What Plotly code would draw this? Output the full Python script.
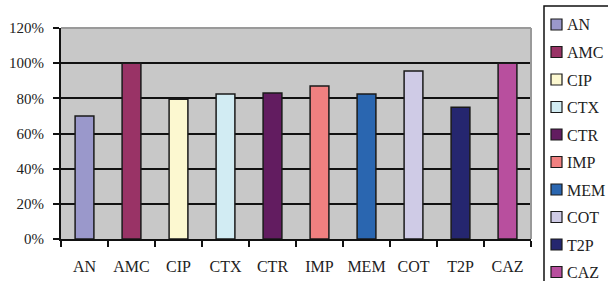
import plotly.graph_objects as go

categories = ["AN", "AMC", "CIP", "CTX", "CTR", "IMP", "MEM", "COT", "T2P", "CAZ"]
values = [70, 100, 79.5, 82.5, 83, 87, 82.5, 95.5, 75, 100]
colors = ["#9a98cb", "#993366", "#fcf8d0", "#d2ecf3", "#621c60",
          "#f08080", "#2a66b0", "#cfcbe6", "#25266f", "#b84f9e"]
y_ticks = [0, 20, 40, 60, 80, 100, 120]
y_tick_labels = ["0%", "20%", "40%", "60%", "80%", "100%", "120%"]

FONT = "Liberation Serif"
W, H = 608, 281
ML, MR, MT, MB = 61, 77, 28, 42
PW, PH = W - ML - MR, H - MT - MB


def px_x(px):
    return (px - ML) / PW


def px_y(py):
    return (H - MB - py) / PH


fig = go.Figure()
for cat, val, col in zip(categories, values, colors):
    fig.add_trace(go.Bar(
        x=[cat], y=[val], name=cat,
        marker=dict(color=col, line=dict(color="#1a1a1a", width=1.5)),
        width=0.4, showlegend=False,
    ))

shapes = [
    dict(type="line", xref="paper", yref="paper", x0=0, x1=1, y0=1, y1=1,
         line=dict(color="#9a9a9a", width=2)),
    dict(type="line", xref="paper", yref="paper", x0=1, x1=1, y0=0, y1=1,
         line=dict(color="#9a9a9a", width=2)),
    # legend box (extends past the right and bottom edges, as in the reference)
    dict(type="rect", xref="paper", yref="paper",
         x0=px_x(544), x1=px_x(640), y0=px_y(6), y1=px_y(300),
         line=dict(color="#111", width=1.5), fillcolor="white"),
]
annotations = []
for i, (cat, col) in enumerate(zip(categories, colors)):
    cy = 24.5 + 27.5 * i
    shapes.append(dict(type="rect", xref="paper", yref="paper",
                       x0=px_x(551), x1=px_x(562), y0=px_y(cy - 5.5), y1=px_y(cy + 5.5),
                       line=dict(color="#1a1a1a", width=1.2), fillcolor=col))
    annotations.append(dict(xref="paper", yref="paper", x=px_x(564.5), y=px_y(cy + 0.5),
                            text=cat, showarrow=False, xanchor="left", yanchor="middle",
                            font=dict(family=FONT, size=16, color="#222")))

fig.update_layout(
    width=W, height=H,
    margin=dict(l=ML, r=MR, t=MT, b=MB, autoexpand=False),
    paper_bgcolor="white",
    plot_bgcolor="#c8c8c8",
    barmode="relative",
    font=dict(family=FONT, size=16, color="#222"),
    showlegend=False,
    xaxis=dict(
        categoryorder="array", categoryarray=categories,
        showgrid=False, showline=True, linecolor="#111", linewidth=2,
        ticks="outside", tickson="boundaries", ticklen=6, tickwidth=1.5, tickcolor="#111",
        ticklabelstandoff=12, tickfont=dict(size=16), tickangle=0,
    ),
    yaxis=dict(
        range=[0, 120], tickvals=y_ticks, ticktext=y_tick_labels,
        showgrid=True, gridcolor="#111", gridwidth=1.5,
        showline=True, linecolor="#111", linewidth=2,
        ticks="outside", ticklen=6, tickwidth=1.5, tickcolor="#111",
        zeroline=False, ticklabelstandoff=6, tickfont=dict(size=15),
    ),
    shapes=shapes,
    annotations=annotations,
)

fig.write_html("out.html", config={"displayModeBar": False},
               post_script="document.body.style.margin='0';document.body.style.overflow='hidden';")
